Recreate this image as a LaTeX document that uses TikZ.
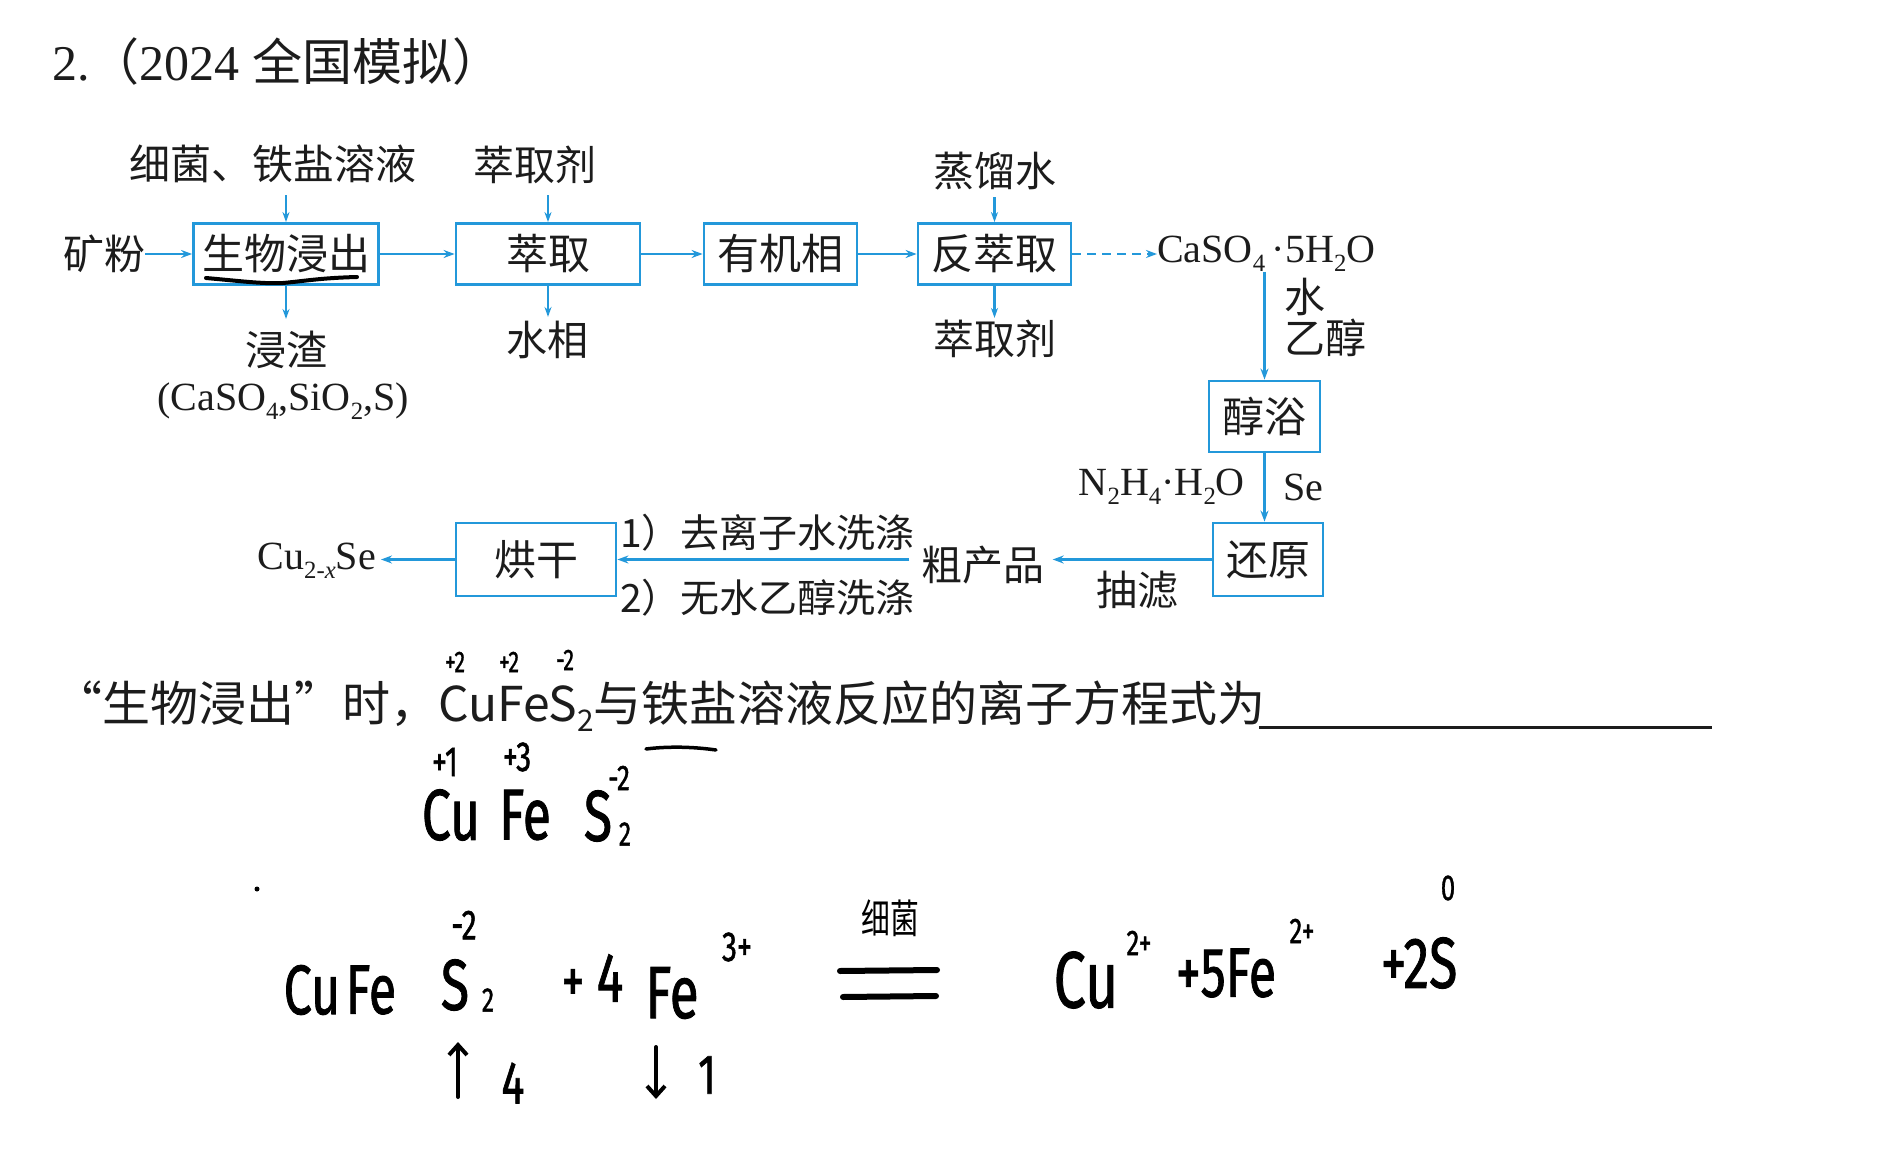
\documentclass[tikz,border=0pt]{standalone}
\usepackage{fontspec}
\usepackage{graphicx}
\setmainfont{Liberation Serif}
\newfontfamily\cjk{Noto Sans CJK SC}
\newfontfamily\hand[FakeBold=1.3]{Fira Sans}
\usetikzlibrary{arrows.meta}
\definecolor{flowblue}{RGB}{35,152,218}
\definecolor{ink}{RGB}{28,28,28}
\newcommand\fs[1]{\fontsize{#1}{#1}\selectfont}
\newcommand\chsub[1]{\raisebox{-0.22em}{\scalebox{0.62}{#1}}}
\newcommand\hw[1]{\scalebox{0.72}[1]{#1}}
\begin{document}
\begin{tikzpicture}[x=1pt,y=-1pt,
  box/.style={draw=flowblue, line width=2.8pt, inner sep=0pt, text=ink, font=\cjk\fs{42}},
  flow/.style={draw=flowblue, line width=2.6pt, -{Stealth[length=11pt,width=8pt]}},
  sideflow/.style={draw=flowblue, line width=2.2pt, -{Stealth[length=10pt,width=7pt]}},
  lbl/.style={inner sep=0pt, text=ink, font=\cjk\fs{41}},
  chem/.style={inner sep=0pt, text=ink, font=\fs{40}},
  hwn/.style={inner sep=0pt, text=black, font=\hand},
  hwline/.style={draw=black, line width=4.5pt, line cap=round}
]
\fill[white] (0,0) rectangle (1877,1150);
\useasboundingbox (0,0) rectangle (1877,1150);

% title
\node[anchor=west, inner sep=0pt, text=ink, font=\fs{50}] (title) at (52,62) {2.{\cjk （}2024 {\cjk 全国模拟）}};

% process boxes
\node[box, minimum width=185pt, minimum height=61pt] (swjc) at (286,254) {生物浸出};
\node[box, minimum width=184pt, minimum height=61pt] (cq) at (548,254) {萃取};
\node[box, minimum width=153pt, minimum height=61pt] (yjx) at (780.5,254) {有机相};
\node[box, minimum width=153pt, minimum height=61pt] (fcq) at (994.5,254) {反萃取};
\node[box, minimum width=111pt, minimum height=71pt] (jy) at (1264.5,416.5) {醇浴};
\node[box, minimum width=110pt, minimum height=73pt] (hy) at (1268,559.5) {还原};
\node[box, minimum width=160pt, minimum height=73pt] (hg) at (536,559.5) {烘干};

% labels
\node[lbl] (kf) at (104,254) {矿粉};
\node[lbl] (xj) at (273,164) {细菌、铁盐溶液};
\node[lbl] (jz) at (286,350) {浸渣};
\node[chem] (jzf) at (283,401) {(CaSO\chsub{4},SiO\chsub{2},S)};
\node[lbl] (cqj1) at (535,165) {萃取剂};
\node[lbl] (sx) at (547,340) {水相};
\node[lbl] (zls) at (995,171) {蒸馏水};
\node[lbl] (cqj2) at (995,339) {萃取剂};
\node[chem, anchor=west] (cuso) at (1157,254) {CaSO\chsub{4}\,·5H\chsub{2}O};
\node[lbl, anchor=west] (shui) at (1284,297) {水};
\node[lbl, anchor=west] (ychun) at (1284,338) {乙醇};
\node[chem, anchor=east] (nh) at (1245,487) {N\chsub{2}H\chsub{4}·H\chsub{2}O};
\node[chem, anchor=west] (se) at (1283,487) {Se};
\node[lbl] (cl) at (1137,590) {抽滤};
\node[lbl] (cp) at (983,565) {粗产品};
\node[lbl, anchor=west, font=\cjk\fs{39}] (xd1) at (620,533) {1）去离子水洗涤};
\node[lbl, anchor=west, font=\cjk\fs{39}] (xd2) at (620,598) {2）无水乙醇洗涤};
\node[chem, anchor=east] (cuse) at (376,561) {Cu\chsub{2-\textit{x}}Se};

% connectors
\draw[flow] (kf.east) -- (swjc.west);
\draw[flow] (swjc.east) -- (cq.west);
\draw[flow] (cq.east) -- (yjx.west);
\draw[flow] (yjx.east) -- (fcq.west);
\draw[flow, dash pattern=on 9pt off 6pt] (fcq.east) -- (cuso.west);
\draw[sideflow, shorten <=12pt] (xj.south -| swjc.north) -- (swjc.north);
\draw[sideflow, shorten >=12pt] (swjc.south) -- (swjc.south |- jz.north);
\draw[sideflow, shorten <=11pt] (cqj1.south -| cq.north) -- (cq.north);
\draw[sideflow, shorten >=4pt] (cq.south) -- (cq.south |- sx.north);
\draw[sideflow, shorten <=7pt] (zls.south -| fcq.north) -- (fcq.north);
\draw[sideflow, shorten >=2pt] (fcq.south) -- (fcq.south |- cqj2.north);
\draw[flow] (cuso.south -| jy.north) -- (jy.north);
\draw[flow] (jy.south) -- (jy.south |- hy.north);
\draw[flow, shorten >=8pt] (hy.west) -- (hy.west -| cp.east);
\draw[flow, shorten <=12pt] (hy.west -| cp.west) -- (hg.east);
\draw[flow, shorten >=5pt] (hg.west) -- (hg.west -| cuse.east);

% handwritten underline
\draw[hwline, line width=4pt] (206,278) .. controls (240,281) and (262,284) .. (283,283) .. controls (305,281) and (320,278) .. (357,277);

% question line
\node[anchor=west, inner sep=0pt, text=ink, font=\cjk\fs{48}] (q) at (54,706) {“生物浸出”时，CuFeS\chsub{2}与铁盐溶液反应的离子方程式为};
\draw[ink, line width=3pt] (1259,727) -- (1712,727);

% handwritten annotations, row A
\node[hwn, font=\hand\fs{30}] (a1) at (455,662) {\hw{+2}};
\node[hwn, font=\hand\fs{30}] (a2) at (509,662) {\hw{+2}};
\node[hwn, font=\hand\fs{30}] (a3) at (565,660) {\hw{-2}};
% row B
\node[hwn, font=\hand\fs{42}] (b1) at (445,762) {\hw{+1}};
\node[hwn, font=\hand\fs{42}] (b2) at (517,757) {\hw{+3}};
\node[hwn, font=\hand\fs{36}] (b3) at (619,778) {\hw{-2}};
\draw[hwline, line width=3.5pt] (646,749) .. controls (670,746) and (695,747) .. (716,750);
\node[hwn, font=\hand\fs{72}] (b4) at (451,815) {\hw{Cu}};
\node[hwn, font=\hand\fs{72}] (b5) at (525,815) {\hw{Fe}};
\node[hwn, font=\hand\fs{72}] (b6) at (598,816) {\hw{S}};
\node[hwn, font=\hand\fs{34}] (b7) at (625,834) {\hw{2}};

% row C
\fill (257,889) circle (2.5pt);
\node[hwn, font=\hand\fs{42}] (c0) at (464,925) {\hw{-2}};
\node[hwn, font=\hand\fs{70}] (c1) at (312,990) {\hw{Cu}};
\node[hwn, font=\hand\fs{70}] (c2) at (371,990) {\hw{Fe}};
\node[hwn, font=\hand\fs{72}] (c3) at (455,985) {\hw{S}};
\node[hwn, font=\hand\fs{34}] (c4) at (488,1000) {\hw{2}};
\node[hwn, font=\hand\fs{64}] (c5) at (573,986) {\hw{+}};
\node[hwn, font=\hand\fs{70}] (c6) at (610,978) {\hw{4}};
\node[hwn, font=\hand\fs{74}] (c7) at (672,993) {\hw{Fe}};
\node[hwn, font=\hand\fs{42}] (c8) at (737,947) {\hw{3+}};
\draw[hwline, line width=6pt] (840,971) -- (937,970);
\draw[hwline, line width=6pt] (843,997) -- (936,996);
\node[hwn, font=\cjk\fs{40}] (c9) at (890,918) {\hw{细菌}};
\node[hwn, font=\hand\fs{80}] (c10) at (1086,980) {\hw{Cu}};
\node[hwn, font=\hand\fs{36}] (c11) at (1139,943) {\hw{2+}};
\node[hwn, font=\hand\fs{70}] (c12) at (1226,973) {\hw{+5Fe}};
\node[hwn, font=\hand\fs{36}] (c13) at (1302,931) {\hw{2+}};
\node[hwn, font=\hand\fs{72}] (c14) at (1419,963) {\hw{+2S}};
\node[hwn, font=\hand\fs{36}] (c15) at (1448,888) {\hw{0}};
\draw[hwline, line width=4pt, -{Straight Barb[length=10pt,width=18pt]}] (458,1097) -- (458,1042);
\node[hwn, font=\hand\fs{60}] (c16) at (513,1083) {\hw{4}};
\draw[hwline, line width=4pt, -{Straight Barb[length=10pt,width=18pt]}] (656,1047) -- (656,1099);
\node[hwn, font=\hand\fs{56}] (c17) at (707,1075) {\hw{1}};
\end{tikzpicture}
\end{document}
